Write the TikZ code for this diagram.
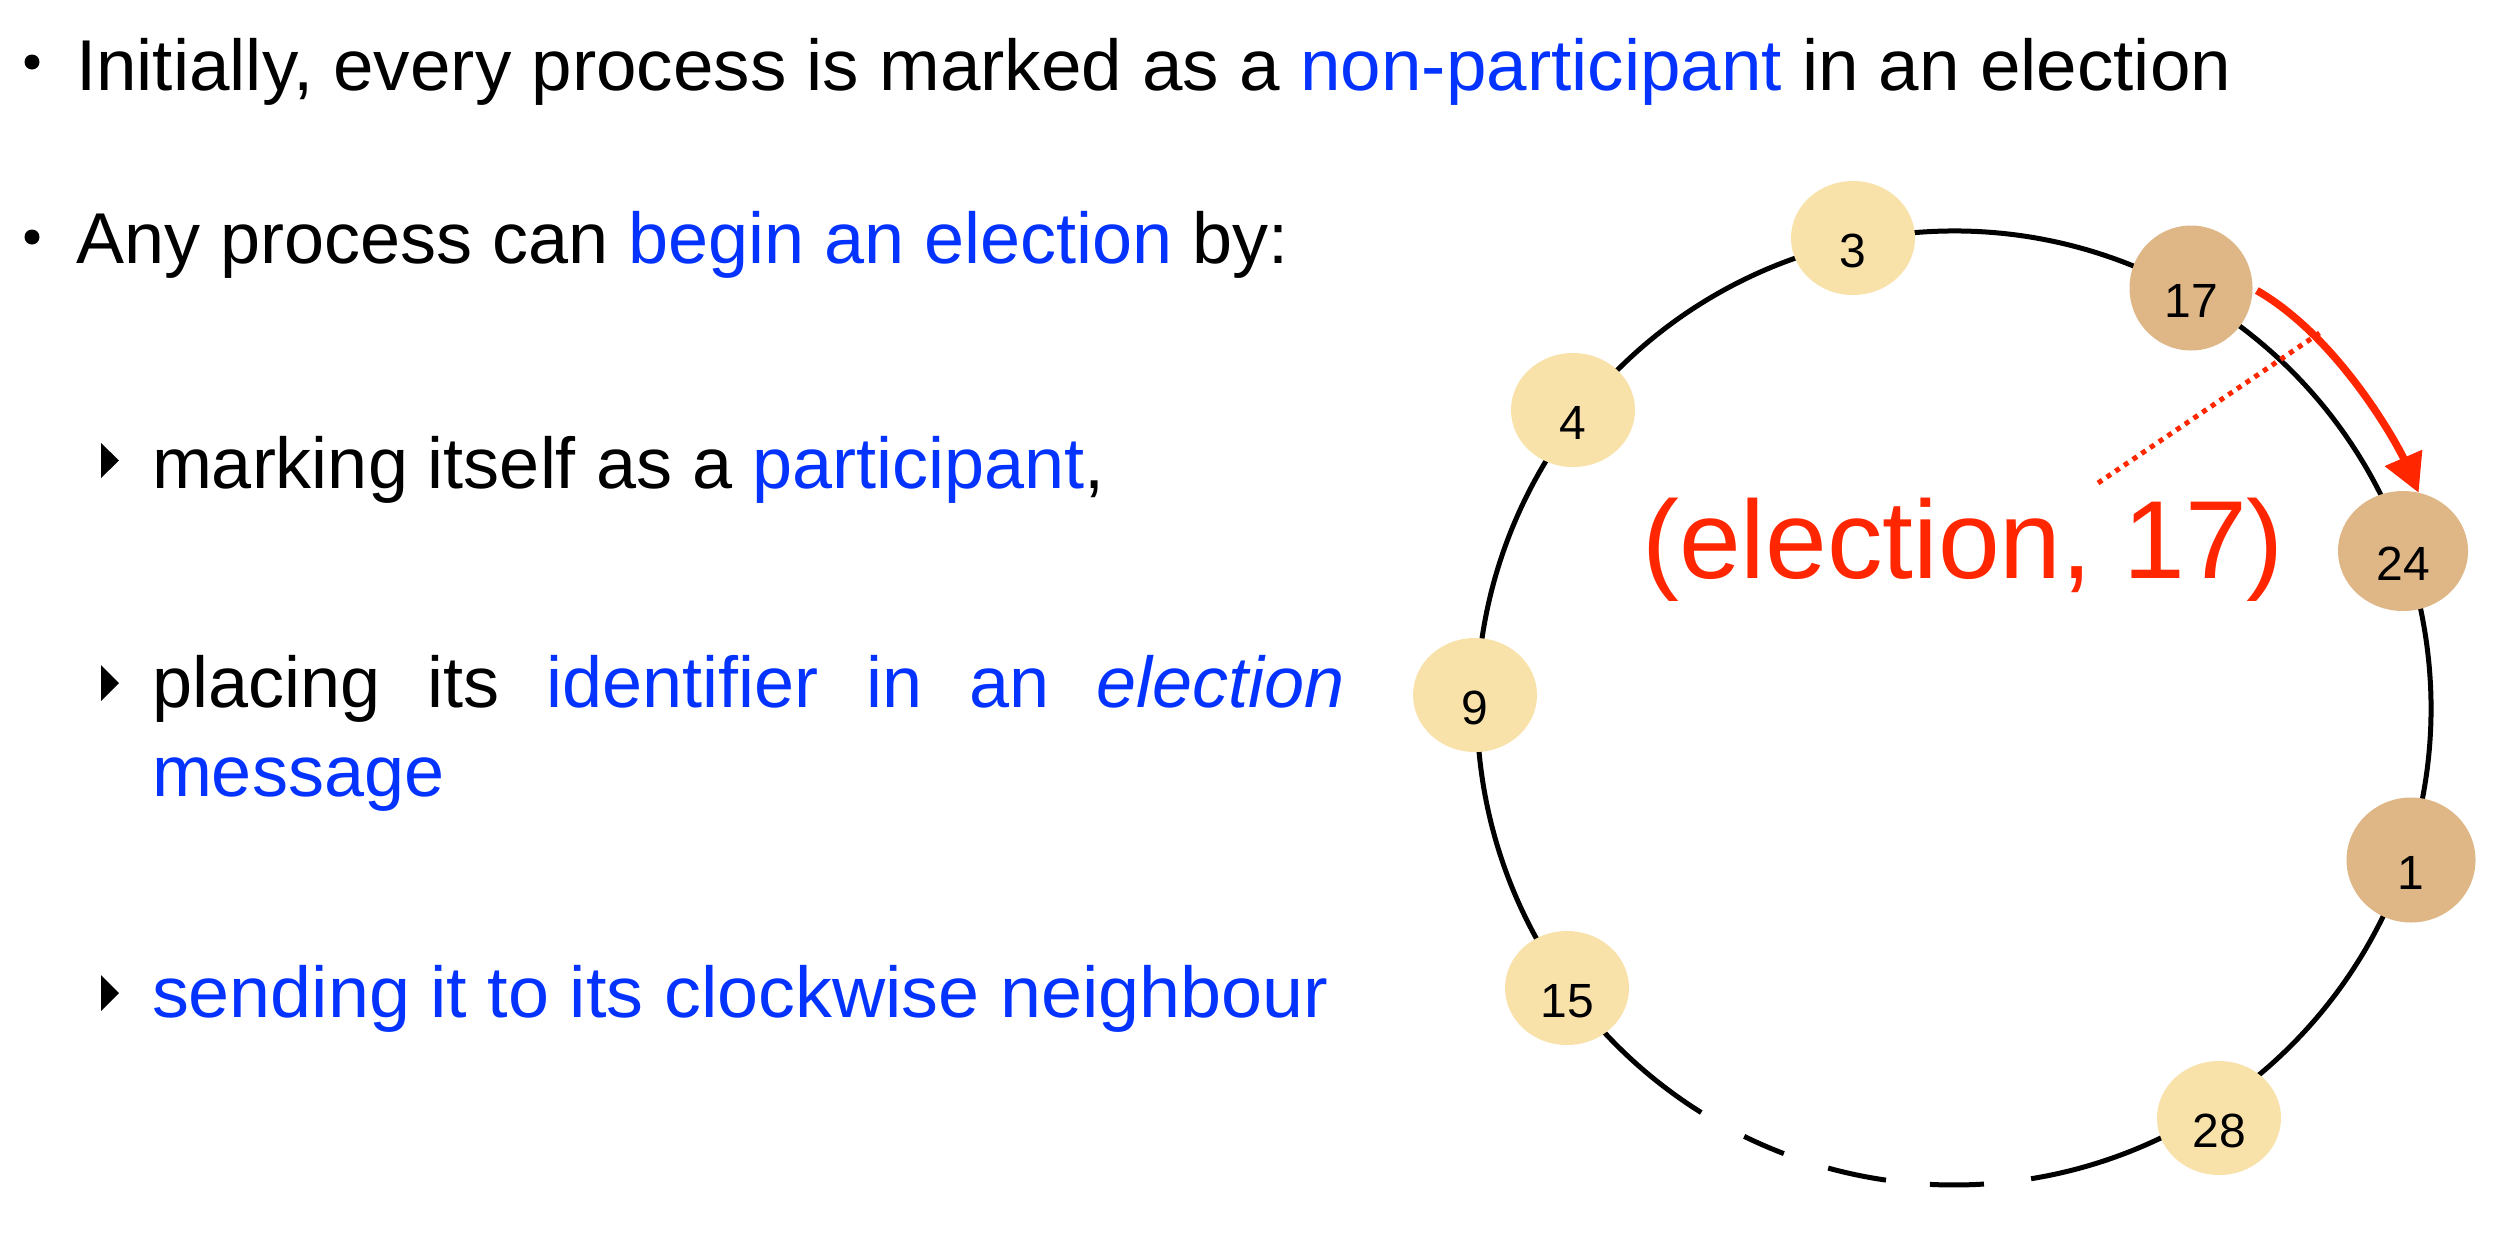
\documentclass[tikz,border=0pt]{standalone}
\usepackage{fontspec}
\setmainfont{Liberation Sans}
\usetikzlibrary{arrows.meta,shapes.geometric}
\definecolor{kblue}{RGB}{4,51,255}
\definecolor{kred}{RGB}{255,38,0}
\definecolor{lightnode}{RGB}{249,226,170}
\definecolor{darknode}{RGB}{223,183,135}
\begin{document}
\begin{tikzpicture}[x=1pt,y=-1pt,
  body/.style={anchor=base west, inner sep=0pt, outer sep=0pt, font=\fontsize{72}{86}\selectfont},
  proc/.style={ellipse, inner sep=0pt, outer sep=0pt, minimum width=124pt, minimum height=114pt,
    fill=lightnode, font=\fontsize{48}{56}\selectfont, text height=58pt, text depth=0pt},
  started/.style={proc, fill=darknode},
  ring/.style={line width=5pt, black},
  msgarrow/.style={kred, line width=7.5pt, -{Triangle[length=38pt,width=39pt]}},
  dotline/.style={kred, line width=5pt, dash pattern=on 5pt off 5.5pt}
]
\useasboundingbox (0,0) rectangle (2518,1256);
\fill[white] (0,0) rectangle (2518,1256);

% ---- text column ----
\fill (32,62) circle (7.5);
\node[body] (l1) at (76,90) {\scalebox{1.011}[1]{Initially, every process is marked as a \textcolor{kblue}{non-participant} in an election}};
\fill (32,237) circle (7.5);
\node[body] (l2) at (76,263) {Any process can \textcolor{kblue}{begin an election} by:};

\fill (101,443) -- (119,460.5) -- (101,478) -- cycle;
\node[body] (s1) at (152,488) {marking itself as a \textcolor{kblue}{participant},};

\fill (101,665) -- (119,683) -- (101,701) -- cycle;
\node[body] (s2) at (152,707) {\makebox[1193pt][s]{placing its \textcolor{kblue}{identifier in an \textit{election}}}};
\node[body, text=kblue] (s2b) at (152,796) {message};

\fill (101,975) -- (119,993) -- (101,1011) -- cycle;
\node[body, text=kblue] (s3) at (152,1017) {\scalebox{1.024}[1]{sending it to its clockwise neighbour}};

% ---- ring ----
\coordinate (ctr) at (1954,708);
\draw[ring] (ctr) ++(80.7:477) arc[start angle=80.7, end angle=-238, radius=477];
\draw[ring] (ctr) ++(116.1:477) arc[start angle=116.1, end angle=110.9, radius=477];
\draw[ring] (ctr) ++(105.3:477) arc[start angle=105.3, end angle=98.2, radius=477];
\draw[ring] (ctr) ++(92.9:477) arc[start angle=92.9, end angle=86.4, radius=477];

\node[proc] (p3) at (1853,238) {3};
\node[started, minimum width=123pt, minimum height=125pt] (p17) at (2191,288) {17};
\node[started, minimum width=130pt, minimum height=120pt] (p24) at (2403,551) {24};
\node[started, minimum width=129pt, minimum height=125pt] (p1) at (2411,860) {1};
\node[proc] (p28) at (2219,1118) {28};
\node[proc] (p15) at (1567,988) {15};
\node[proc] (p9) at (1475,695) {9};
\node[proc] (p4) at (1573,410) {4};

% ---- message ----
\node[anchor=base west, inner sep=0pt, font=\fontsize{111}{130}\selectfont, text=kred] (msg) at (1642,578) {(election, 17)};
\coordinate (dotA) at (2098,483);
\coordinate (dotB) at (2321,332);
\draw[dotline] (dotA) -- (dotB);
\draw[msgarrow, shorten <=5pt] (p17.east) .. controls +(87,50) and +(-20,-46) .. (p24.75);
\end{tikzpicture}
\end{document}
